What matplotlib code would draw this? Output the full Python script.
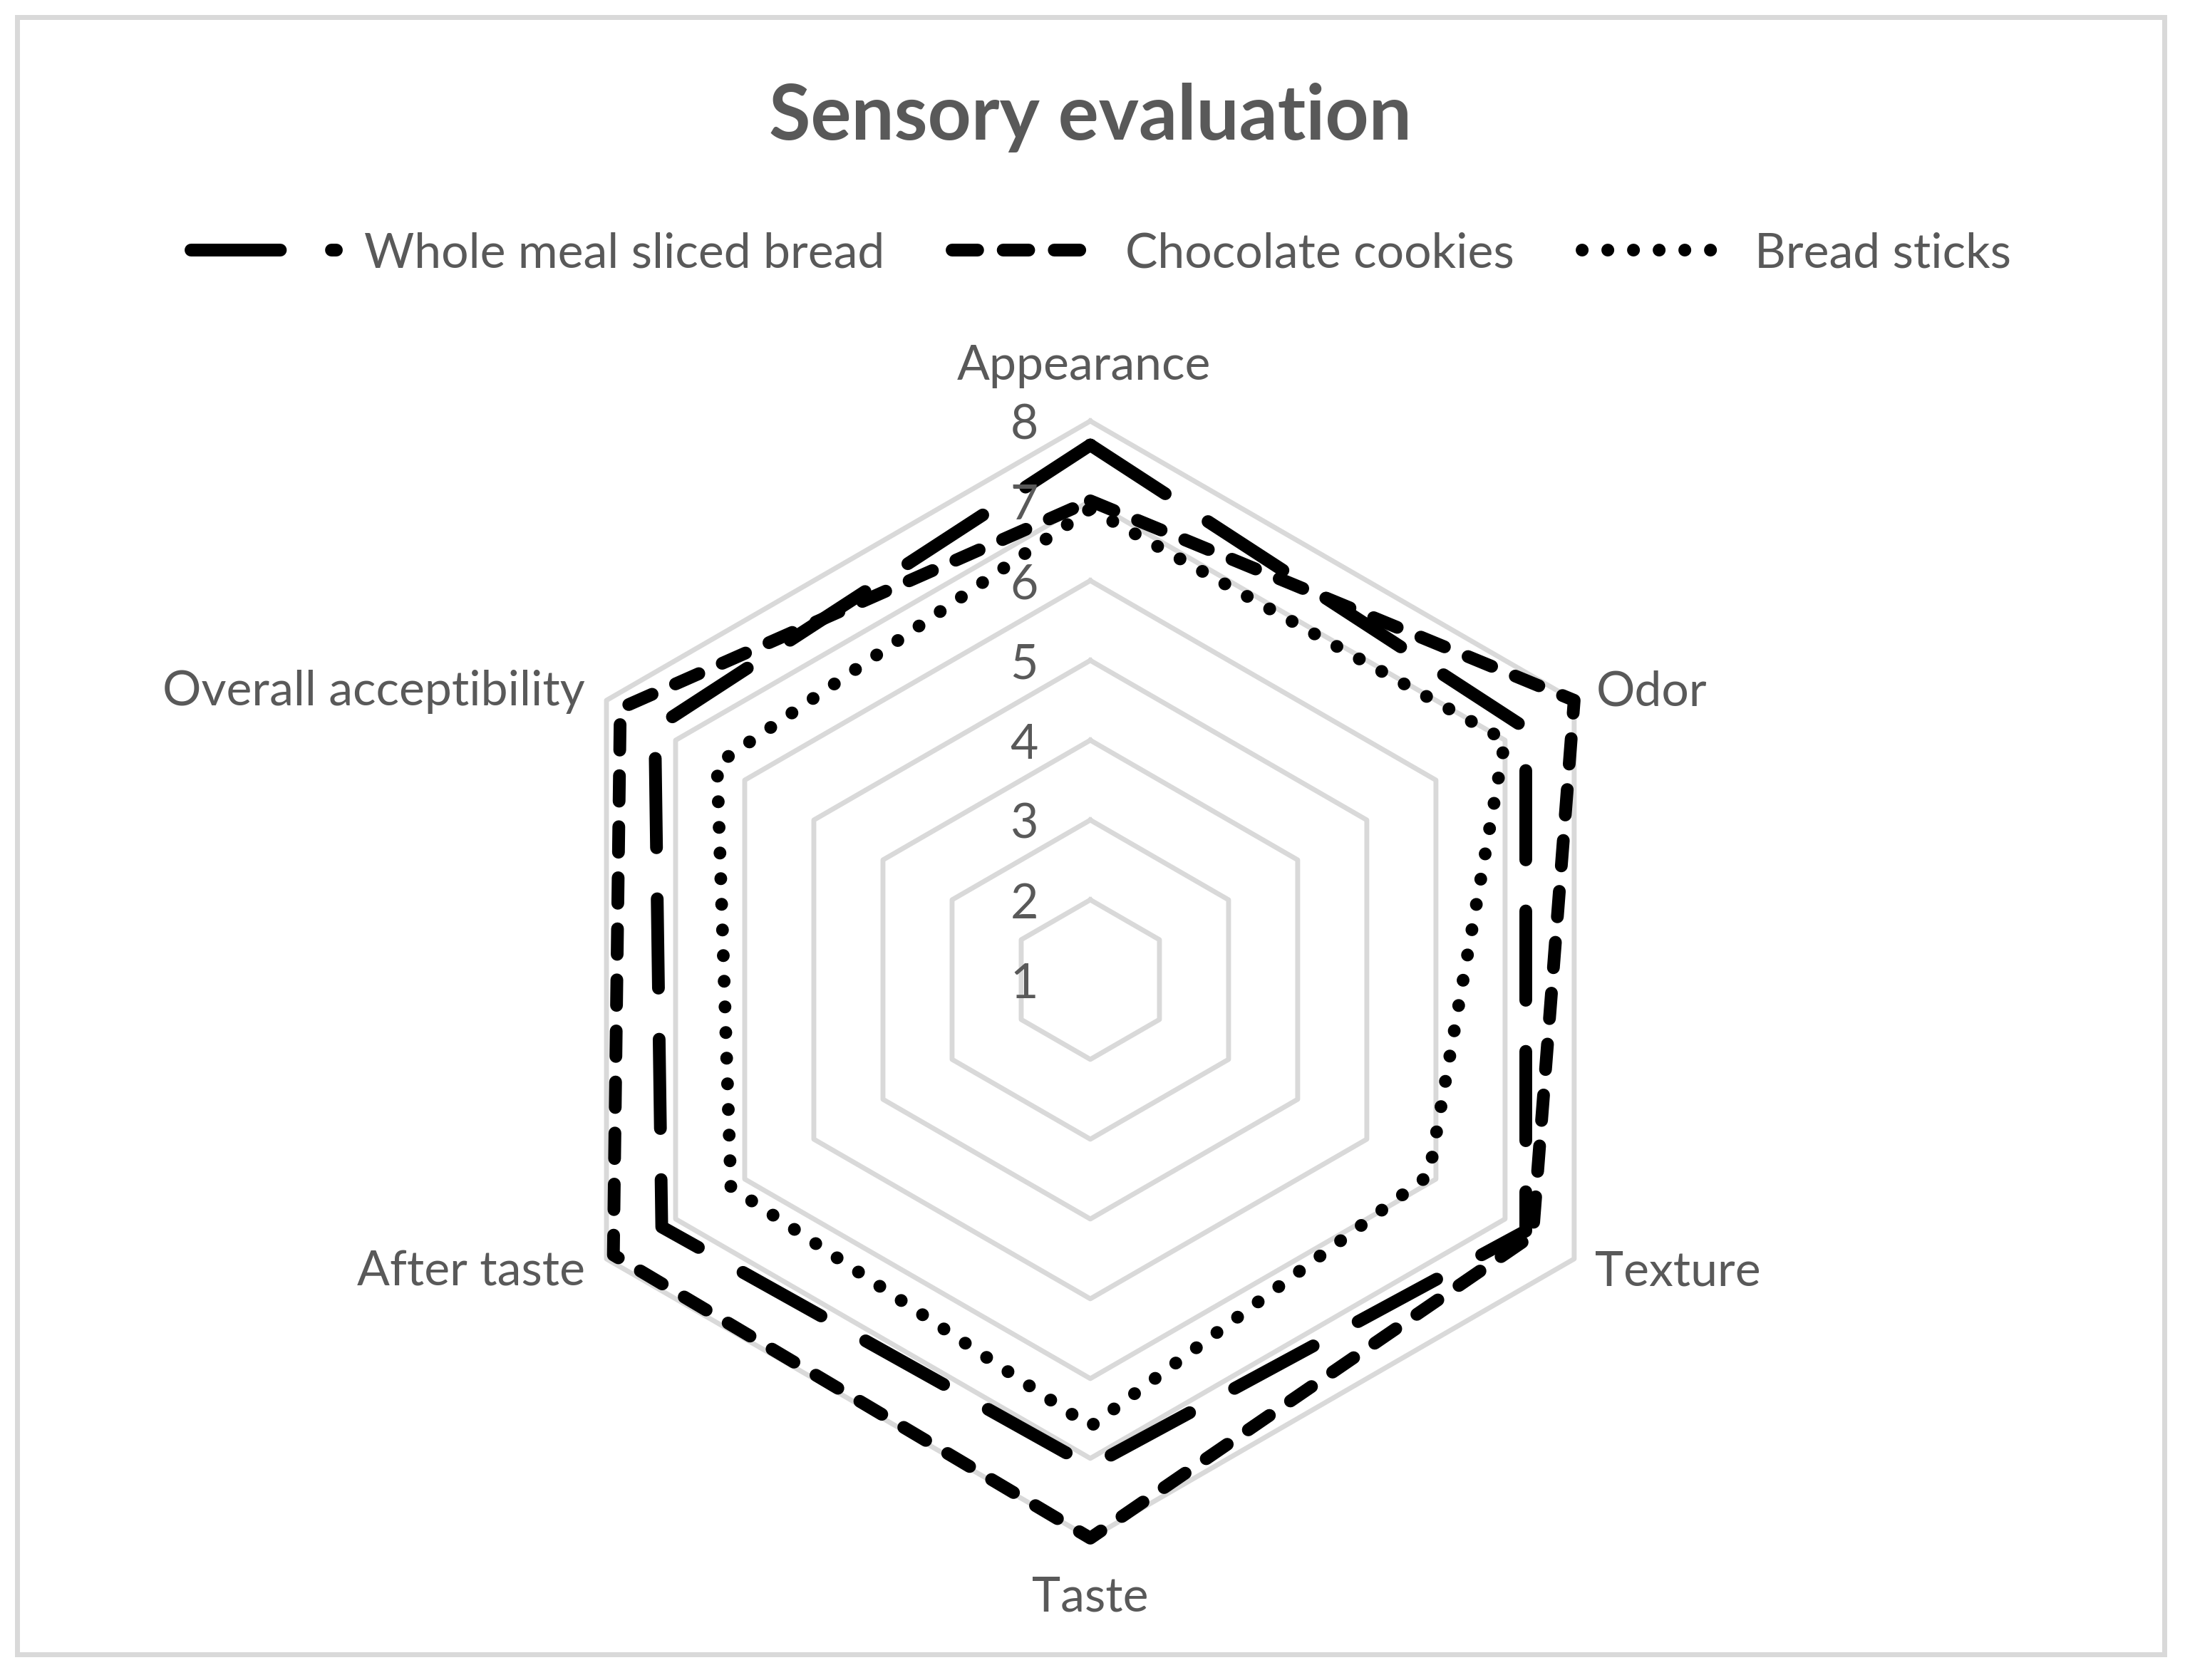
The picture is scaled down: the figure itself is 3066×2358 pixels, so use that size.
import numpy as np
import matplotlib.pyplot as plt
from matplotlib.patches import Rectangle

plt.rcParams['font.family'] = ['Lato', 'DejaVu Sans']

categories = ['Appearance', 'Odor', 'Texture', 'Taste', 'After taste', 'Overall acceptibility']
series_names = ['Whole meal sliced bread', 'Chocolate cookies', 'Bread sticks']
whole_meal = [7.7, 7.3, 7.3, 7.1, 7.2, 7.3]
cookies = [7.0, 8.0, 7.4, 8.0, 7.9, 7.8]
bread_sticks = [6.9, 7.0, 5.9, 6.6, 6.2, 6.4]
rings = [1, 2, 3, 4, 5, 6, 7, 8]

text_color = '#595959'
grid_color = '#D9D9D9'

fig = plt.figure(figsize=(10.22, 7.86), dpi=300)
ax = fig.add_axes([0.2433, 0.0844, 0.5114, 0.665], projection='polar')
ax.set_theta_zero_location('N')
ax.set_theta_direction(-1)
ax.set_ylim(rings[0], rings[-1])
ax.grid(False)
ax.spines['polar'].set_visible(False)
ax.set_xticks([])
ax.set_yticks([])
ax.patch.set_alpha(0)

angles = np.linspace(0, 2 * np.pi, len(categories), endpoint=False)
closed = np.append(angles, angles[0])

# hexagon grid
for r in rings[1:]:
    ax.plot(closed, [r] * len(closed), color=grid_color, lw=1.65, zorder=1, clip_on=False)

# data lines (dash patterns in units of line width)
styles = [(0, (7, 4)), (0, (2, 2)), (0, (0.01, 2))]
handles = []
for vals, name, ls in zip([whole_meal, cookies, bread_sticks], series_names, styles):
    line, = ax.plot(closed, vals + vals[:1], color='black', lw=4.3, linestyle=ls,
                    dash_capstyle='round', dash_joinstyle='round', zorder=3,
                    clip_on=False, label=name)
    handles.append(line)

# radial tick labels
for r in rings:
    ax.annotate(str(r), xy=(0, r), xytext=(-22.3, -6.2), textcoords='offset points',
                ha='center', va='baseline', fontsize=16.3, color=text_color)

# category labels
label_pos = [((-2.2, 14), 'center'), ((7.4, -1.7), 'left'), ((7, -9), 'left'),
             ((0, -24.7), 'center'), ((-7.2, -9), 'right'), ((-7.2, -1.7), 'right')]
for ang, cat, (off, ha) in zip(angles, categories, label_pos):
    ax.annotate(cat, xy=(ang, rings[-1]), xytext=off, textcoords='offset points',
                ha=ha, va='baseline', fontsize=16.3, color=text_color)

fig.text(0.4989, 1 - 196 / 2358, 'Sensory evaluation', ha='center', va='baseline',
         fontsize=25.6, fontweight='bold', color=text_color)

leg = fig.legend(handles=handles, loc='center', bbox_to_anchor=(0.504, 1 - 356 / 2358),
                 ncol=3, frameon=False, fontsize=16.3, handlelength=3.0,
                 handletextpad=0.57, columnspacing=1.4)
for t in leg.get_texts():
    t.set_color(text_color)

fig.patches.append(Rectangle((23.5 / 3066, 1 - 2322 / 2358), (3037 - 23.5) / 3066,
                             (2322 - 23.5) / 2358, transform=fig.transFigure,
                             fill=False, edgecolor=grid_color, lw=1.68))

fig.savefig('out.png', dpi=300, facecolor='white')
